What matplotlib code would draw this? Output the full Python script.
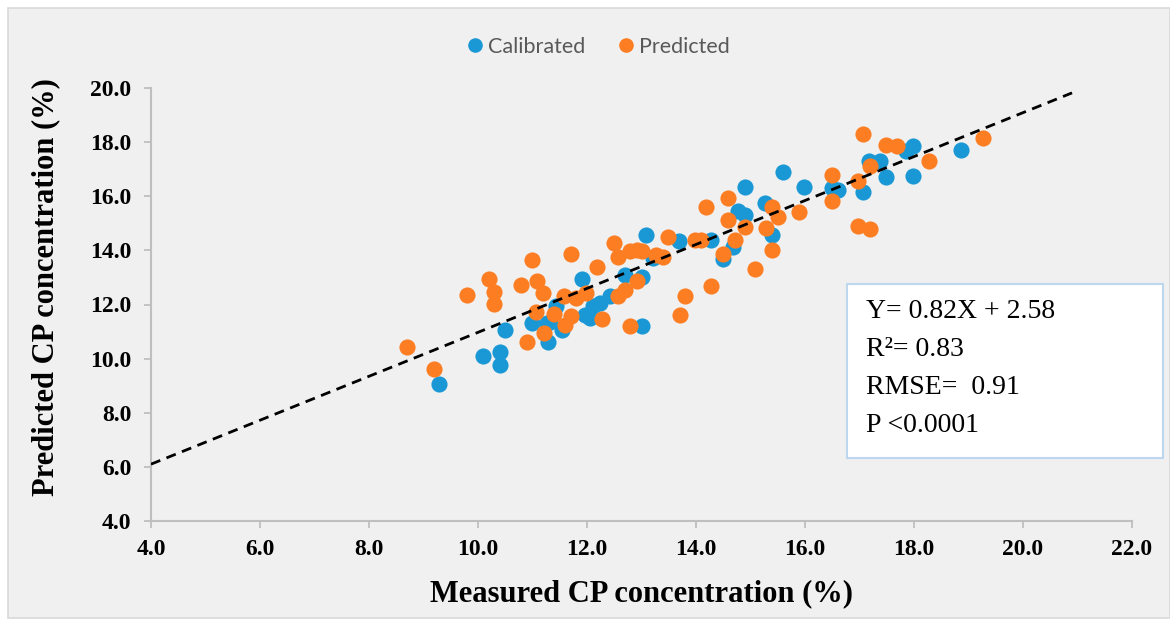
import matplotlib
matplotlib.use("Agg")
import matplotlib.pyplot as plt
from matplotlib.patches import Rectangle
from matplotlib.lines import Line2D
from matplotlib.font_manager import FontProperties

# ---- data ----
cal_x = [9.28, 10.10, 10.40, 10.40, 10.49, 10.99, 11.26, 11.28, 11.55, 11.90,
         11.32, 11.96, 12.05, 12.11, 12.23, 12.42, 11.44,
         12.69, 13.00, 13.00, 13.09, 13.21, 13.69, 14.28, 14.68, 14.77,
         14.90, 14.90, 14.49, 15.26, 15.40, 15.59, 15.98, 16.49, 16.61,
         17.07, 17.18, 17.37, 17.48, 17.86, 17.99, 17.99, 18.87]
cal_y = [9.06, 10.10, 10.26, 9.77, 11.06, 11.32, 11.32, 10.63, 11.06, 12.95,
         11.37, 11.62, 11.50, 11.93, 12.05, 12.30, 11.95,
         13.10, 13.02, 11.19, 14.58, 13.73, 14.33, 14.37, 14.14, 15.44,
         15.32, 16.34, 13.68, 15.74, 14.58, 16.88, 16.34, 16.30, 16.22,
         16.14, 17.32, 17.29, 16.71, 17.69, 17.87, 16.76, 17.72]

pred_x = [8.70, 9.19, 9.79, 10.20, 10.29, 10.29, 10.99, 10.78, 11.08, 11.19,
          10.89, 11.21, 11.07, 11.39, 11.57, 11.60, 11.70, 11.70, 11.79, 11.99,
          12.19, 12.28, 12.49, 12.57, 12.57, 12.69, 12.79, 12.79, 12.91, 13.00,
          12.91, 13.27, 13.40, 13.49, 13.79, 13.70, 13.98, 14.10, 14.19, 14.28,
          14.49, 14.58, 14.58, 14.71, 14.90, 15.08, 15.29, 15.40, 15.40, 15.51,
          15.89, 16.49, 16.49, 16.98, 17.19, 16.98, 17.19, 17.07, 17.48, 17.68,
          18.28, 19.27]
pred_y = [10.42, 9.61, 12.36, 12.95, 12.47, 12.03, 13.65, 12.73, 12.85, 12.43,
          10.62, 10.96, 11.74, 11.66, 12.30, 11.25, 11.56, 13.87, 12.25, 12.43,
          13.40, 11.47, 14.27, 13.75, 12.33, 12.54, 11.21, 13.96, 14.00, 13.96,
          12.85, 13.84, 13.75, 14.51, 12.30, 11.62, 14.39, 14.39, 15.60, 12.67,
          13.87, 15.93, 15.11, 14.39, 14.88, 13.31, 14.82, 15.60, 14.02, 15.25,
          15.40, 16.80, 15.81, 14.91, 14.79, 16.55, 17.10, 18.31, 17.91, 17.84,
          17.31, 18.15]

fit_x = [4.0, 20.9]
fit_y = [6.10, 19.82]

x_ticks = [4.0, 6.0, 8.0, 10.0, 12.0, 14.0, 16.0, 18.0, 20.0, 22.0]
y_ticks = [4.0, 6.0, 8.0, 10.0, 12.0, 14.0, 16.0, 18.0, 20.0]

stats_lines = ["Y= 0.82X + 2.58", "R\u00b2= 0.83", "RMSE=  0.91", "P <0.0001"]

BLUE = "#1a98d5"
ORANGE = "#fd7d22"
SPINE = "#bfbfbf"

W, H = 1170, 622
fig = plt.figure(figsize=(W / 100, H / 100), dpi=100, facecolor="white")

def fx(px):
    return px / W

def fy(py):
    return 1 - py / H

# background panel
fig.add_artist(Rectangle((fx(8), fy(618)), fx(1170 - 8), (618 - 8) / H,
                         transform=fig.transFigure, facecolor="#f0f0f0",
                         edgecolor="#d9d9d9", linewidth=1.2, zorder=0))

ax = fig.add_axes([fx(151), fy(521), fx(1132 - 151), (521 - 88) / H])
ax.set_facecolor("none")

ax.plot(fit_x, fit_y, color="black", linewidth=2.0,
        linestyle=(0, (3.6, 2.4)), dash_capstyle="butt", zorder=3)
ax.scatter(cal_x, cal_y, s=135, color=BLUE, linewidths=0, zorder=2)
ax.scatter(pred_x, pred_y, s=135, color=ORANGE, linewidths=0, zorder=2.5)

ax.set_xlim(x_ticks[0], x_ticks[-1])
ax.set_ylim(y_ticks[0], y_ticks[-1])
ax.set_xticks(x_ticks)
ax.set_yticks(y_ticks)
ax.set_xticklabels([f"{v:.1f}" for v in x_ticks])
ax.set_yticklabels([f"{v:.1f}" for v in y_ticks])

for s in ["top", "right"]:
    ax.spines[s].set_visible(False)
for s in ["left", "bottom"]:
    ax.spines[s].set_color(SPINE)
    ax.spines[s].set_linewidth(1.5)

tick_fp = FontProperties(family="Liberation Serif", weight="bold", size=17)
ax.tick_params(axis="both", colors=SPINE, length=5, width=1.3, direction="out")
ax.tick_params(axis="x", pad=8)
ax.tick_params(axis="y", pad=9)
for lab in ax.get_xticklabels() + ax.get_yticklabels():
    lab.set_fontproperties(tick_fp)
    lab.set_color("black")

label_font = dict(family="Liberation Serif", weight="bold", size=22, color="black")
ax.set_xlabel("Measured CP concentration (%)", **label_font)
ax.set_ylabel("Predicted CP concentration (%)", **label_font)
ax.xaxis.set_label_coords(0.5, -0.135)
ax.yaxis.set_label_coords(-0.093, 0.54)

# legend
handles = [Line2D([], [], marker="o", linestyle="none", markersize=10.5,
                  markerfacecolor=BLUE, markeredgewidth=0),
           Line2D([], [], marker="o", linestyle="none", markersize=10.5,
                  markerfacecolor=ORANGE, markeredgewidth=0)]
leg = fig.legend(handles, ["Calibrated", "Predicted"], loc="center",
                 bbox_to_anchor=(fx(597), fy(47)), ncol=2, frameon=False,
                 handletextpad=0.1, columnspacing=1.4, handlelength=1.0,
                 prop={"family": "Lato", "size": 15.5})
for t in leg.get_texts():
    t.set_color("#595959")

# statistics box
fig.add_artist(Rectangle((fx(847), fy(458)), fx(1163 - 847), (458 - 284) / H,
                         transform=fig.transFigure, facecolor="white",
                         edgecolor="#bdd7ee", linewidth=1.5, zorder=4))
for line, py in zip(stats_lines, [312, 350, 388, 425]):
    fig.text(fx(866), fy(py), line, family="Liberation Serif", size=20,
             ha="left", va="center", color="black", zorder=5)

fig.savefig("out.png", dpi=100, facecolor="white")
